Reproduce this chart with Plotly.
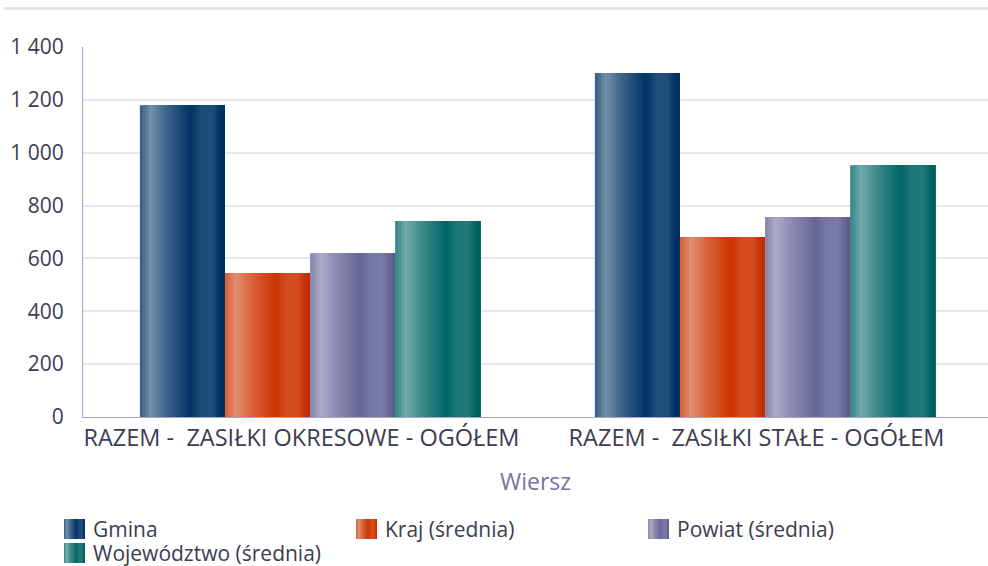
import plotly.graph_objects as go

categories = ["RAZEM -\u00a0\u00a0ZASIŁKI OKRESOWE - OGÓŁEM", "RAZEM -\u00a0\u00a0ZASIŁKI STAŁE - OGÓŁEM"]
series_names = ["Gmina", "Kraj (średnia)", "Powiat (średnia)", "Województwo (średnia)"]
gmina = [1180, 1302]
kraj = [545, 681]
powiat = [620, 757]
wojewodztwo = [742, 953]
series_values = [gmina, kraj, powiat, wojewodztwo]
base_colors = ["#003366", "#cc3300", "#666699", "#006666"]
y_tickvals = [0, 200, 400, 600, 800, 1000, 1200, 1400]
y_ticktext = ["0", "200", "400", "600", "800", "1 000", "1 200", "1 400"]

FONT = "Open Sans"
TXT = "#3c3c52"

# gradient stops: (fraction across bar, mix with white (>0) or black (<0))
stops = [(0.0, 0.2), (0.13, 0.45), (0.3, 0.25), (0.6, 0.0), (0.72, 0.12), (0.86, 0.13), (1.0, -0.12)]
N = 28


def hex2rgb(h):
    h = h.lstrip("#")
    return [int(h[i:i + 2], 16) for i in (0, 2, 4)]


def shade(base, f):
    r = hex2rgb(base)
    if f >= 0:
        c = [v + (255 - v) * f for v in r]
    else:
        c = [v * (1 + f) for v in r]
    return "rgb(%d,%d,%d)" % tuple(int(round(v)) for v in c)


def mix_at(t):
    for (a, fa), (b, fb) in zip(stops[:-1], stops[1:]):
        if a <= t <= b:
            return fa + (fb - fa) * (t - a) / (b - a)
    return stops[-1][1]


fig = go.Figure()
w = 0.187
start = -2 * w - 0.001
for i, (name, vals, col) in enumerate(zip(series_names, series_values, base_colors)):
    for j in range(N):
        t = (j + 0.5) / N
        fig.add_trace(go.Bar(
            x=categories, y=vals, name=name, showlegend=False,
            offset=start + i * w + j * w / N, width=w - j * w / N,
            marker=dict(color=shade(col, mix_at(t)), line=dict(width=0)),
            hoverinfo="skip" if j else None,
        ))

L, R, T, B = 83, 0, 47, 149
W, H = 988, 566
pw, ph = W - L - R, H - T - B


def px(xp):
    return (xp - L) / pw


def py(yp):
    return (H - B - yp) / ph


shapes = []
annotations = []
# top decorative rule
shapes.append(dict(type="line", xref="paper", yref="paper", x0=px(4), x1=px(990), y0=py(8.5), y1=py(8.5),
                   line=dict(color="#e2e2ea", width=2.5)))

# custom legend
leg_pos = [(64, 529), (356, 529), (648, 529), (64, 553)]
sw = 21
for (lx, ly), name, col in zip(leg_pos, series_names, base_colors):
    M = 12
    for j in range(M):
        t = (j + 0.5) / M
        shapes.append(dict(type="rect", xref="paper", yref="paper",
                           x0=px(lx + j * sw / M), x1=px(lx + sw),
                           y0=py(ly - 10), y1=py(ly + 10), line=dict(width=0),
                           fillcolor=shade(col, mix_at(t))))
    annotations.append(dict(xref="paper", yref="paper", x=px(lx + 27), y=py(ly), text=name, showarrow=False,
                            xanchor="left", yanchor="middle", font=dict(family=FONT, size=21, color=TXT)))

annotations.append(dict(xref="paper", yref="paper", x=px(535), y=py(481), text="Wiersz", showarrow=False,
                        xanchor="center", yanchor="middle", font=dict(family=FONT, size=23, color="#7474a0")))

fig.update_layout(
    width=W, height=H, margin=dict(l=L, r=R, t=T, b=B),
    paper_bgcolor="white", plot_bgcolor="white",
    barmode="overlay", showlegend=False,
    font=dict(family=FONT, color=TXT),
    shapes=shapes, annotations=annotations,
    xaxis=dict(type="category", range=[-0.5, 1.489], showline=True, linecolor="#a4a4c8", linewidth=1,
               showgrid=False, ticks="", ticklabelshift=-9,
               tickfont=dict(family=FONT, size=23.5, color=TXT)),
    yaxis=dict(range=[0, 1400], tickvals=y_tickvals, ticktext=y_ticktext, showline=True,
               linecolor="#a4a4c8", linewidth=1, gridcolor="#e6e6ee", gridwidth=1.5, zeroline=False,
               ticks="outside", ticklen=14, tickcolor="rgba(0,0,0,0)",
               tickfont=dict(family=FONT, size=21, color=TXT)),
)

fig.write_html("out.html", config={"displayModeBar": False},
               post_script="document.body.style.margin='0';")
